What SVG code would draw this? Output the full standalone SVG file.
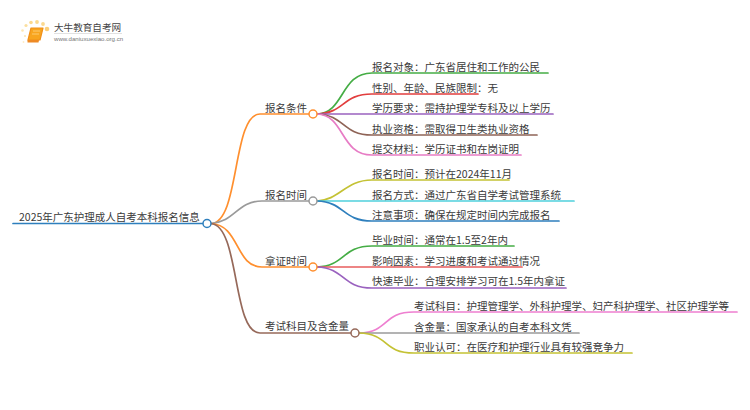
<svg xmlns="http://www.w3.org/2000/svg" width="750" height="410" viewBox="0 0 750 410">
<style>
text{font-family:"Noto Sans CJK SC","Liberation Sans",sans-serif;font-size:10.5px;fill:#3a3a3a}
.c{fill:none;stroke-width:1.7;stroke-linecap:round}
.n{fill:#fff;stroke-width:1.5}
</style>
<rect width="750" height="410" fill="#fff"/>
<g id="logo">
<circle cx="47" cy="29" r="2.300" fill="#fbcf7a"/><circle cx="43" cy="24" r="1.900" fill="#fbd98f"/><circle cx="37" cy="22" r="1.900" fill="#fbd98f"/><circle cx="31" cy="22.500" r="1.800" fill="#fbd98f"/><circle cx="26" cy="25.500" r="1.600" fill="#fbdf9f"/><circle cx="22.500" cy="30.500" r="1.300" fill="#fde6b3"/><circle cx="25" cy="36" r="1.100" fill="#fde6b3"/><circle cx="23.500" cy="42" r="0.900" fill="#feecc5"/>
<path d="M31 28H43L40 40H28Z" fill="#f8a51f" stroke="#f0901a" stroke-width="1.200" stroke-linejoin="round"/>
<path d="M27.500 40H39L38.500 42.500H27.500Z" fill="#ee8a24"/>
<path d="M33 31H40M32 34H39" stroke="#fcd486" stroke-width="0.800"/>
<text x="54" y="31" style="font-size:9.600px;fill:#444">大牛教育自考网</text>
<path d="M54 33.500H122" stroke="#ccc" stroke-width="0.600"/>
<text x="54" y="41" style="font-size:6.100px;fill:#777;font-family:'Liberation Sans',sans-serif">www.daniuxuexiao.org.cn</text>
</g>
<g id="connectors">
<path class="c" stroke="#2e7fbd" d="M13 223.500H203"/>
<path class="c" stroke="#ff8f2e" d="M211 223.500C240 223 232 114 260 114H309"/>
<path class="c" stroke="#9a9a9a" d="M211 223.500C235 222 237 201 262 201H309"/>
<path class="c" stroke="#ff8f2e" d="M211 223.500C240 225 235 267 262 267H309"/>
<path class="c" stroke="#96695a" d="M211 223.500C240 226 232 333 260 333H351"/>
<path class="c" stroke="#45ad45" d="M317 114C345 113 340 73 372 73H548"/>
<path class="c" stroke="#e23e3e" d="M317 114C345 113 342 94 372 94H478"/>
<path class="c" stroke="#9a62bf" d="M317 114H553"/>
<path class="c" stroke="#8f6457" d="M317 114C345 115 342 135 372 135H537"/>
<path class="c" stroke="#e77cc5" d="M317 114C345 115 340 155 372 155H521"/>
<path class="c" stroke="#c4c234" d="M317 201C340 200 345 180 372 180H509"/>
<path class="c" stroke="#4fd0dc" d="M317 201H574"/>
<path class="c" stroke="#2e7fbd" d="M317 201C345 202 342 221 372 221H559"/>
<path class="c" stroke="#45ad45" d="M317 267C345 266 342 246 372 246H514"/>
<path class="c" stroke="#e85d5d" d="M317 267H522"/>
<path class="c" stroke="#9a62bf" d="M317 267C345 268 342 288 372 288H566"/>
<path class="c" stroke="#ee7fd0" d="M359 333C390 332 382 312 414 312H737"/>
<path class="c" stroke="#9a9a9a" d="M359 333H579"/>
<path class="c" stroke="#c4c234" d="M359 333C390 334 382 353 414 353H632"/>
</g>
<g id="root"><text x="19" y="220.500">2025年广东护理成人自考本科报名信息</text><circle class="n" stroke="#2e7fbd" cx="207" cy="223.500" r="4"/></g>
<g id="n1"><text x="265" y="111.500">报名条件</text><circle class="n" stroke="#ff8f2e" cx="313" cy="114" r="4"/></g>
<g id="n2"><text x="265" y="198.500">报名时间</text><circle class="n" stroke="#9a9a9a" cx="313" cy="201" r="4"/></g>
<g id="n3"><text x="265" y="264.500">拿证时间</text><circle class="n" stroke="#ff8f2e" cx="313" cy="267" r="4"/></g>
<g id="n4"><text x="265" y="330">考试科目及含金量</text><circle class="n" stroke="#96695a" cx="355" cy="333" r="4"/></g>
<g id="l1"><text x="372" y="70.500">报名对象：广东省居住和工作的公民</text></g>
<g id="l2"><text x="372" y="91.500">性别、年龄、民族限制：无</text></g>
<g id="l3"><text x="372" y="111.500">学历要求：需持护理学专科及以上学历</text></g>
<g id="l4"><text x="372" y="132.500">执业资格：需取得卫生类执业资格</text></g>
<g id="l5"><text x="372" y="152.500">提交材料：学历证书和在岗证明</text></g>
<g id="l6"><text x="372" y="177.500">报名时间：预计在2024年11月</text></g>
<g id="l7"><text x="372" y="198.500">报名方式：通过广东省自学考试管理系统</text></g>
<g id="l8"><text x="372" y="218.500">注意事项：确保在规定时间内完成报名</text></g>
<g id="l9"><text x="372" y="243.500">毕业时间：通常在1.5至2年内</text></g>
<g id="l10"><text x="372" y="264.500">影响因素：学习进度和考试通过情况</text></g>
<g id="l11"><text x="372" y="284.500">快速毕业：合理安排学习可在1.5年内拿证</text></g>
<g id="l12"><text x="414" y="309.500">考试科目：护理管理学、外科护理学、妇产科护理学、社区护理学等</text></g>
<g id="l13"><text x="414" y="330.500">含金量：国家承认的自考本科文凭</text></g>
<g id="l14"><text x="414" y="350.500">职业认可：在医疗和护理行业具有较强竞争力</text></g>
</svg>
